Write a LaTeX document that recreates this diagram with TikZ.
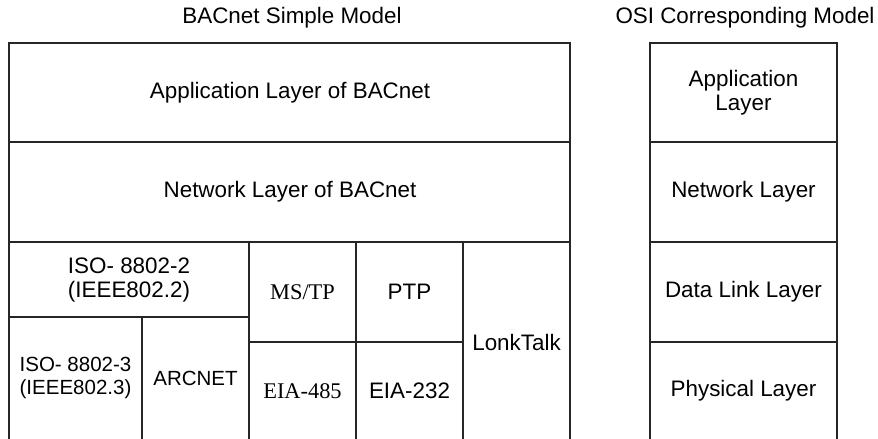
\documentclass[tikz,border=0pt]{standalone}
\usepackage{fontspec}
\setmainfont{Liberation Sans}
\newfontfamily\serifface{Liberation Serif}
\begin{document}
\begin{tikzpicture}[x=1pt,y=-1pt,
  grid/.style={line width=1.3pt,draw=black!85},
  lbl/.style={inner sep=0pt,align=center,font=\fontsize{22.4}{24.5}\selectfont},
  smlbl/.style={inner sep=0pt,align=center,font=\fontsize{20.5}{23}\selectfont},
  slbl/.style={inner sep=0pt,align=center,font=\fontsize{22.4}{24.5}\selectfont\serifface}]
\useasboundingbox (0,0) rectangle (878,439);
% titles
\node[lbl] (t1) at (292,18) {BACnet Simple Model};
\node[lbl] (t2) at (745,18) {OSI Corresponding Model};
% BACnet grid
\draw[grid] (9,439) -- (9,43) -- (570,43) -- (570,439);
\draw[grid] (9,142) -- (570,142);
\draw[grid] (9,242) -- (570,242);
\draw[grid] (9,317) -- (249,317);
\draw[grid] (142,317) -- (142,439);
\draw[grid] (249,242) -- (249,439);
\draw[grid] (249,342) -- (463,342);
\draw[grid] (356,242) -- (356,439);
\draw[grid] (463,242) -- (463,439);
% OSI grid
\draw[grid] (650,439) -- (650,43) -- (837,43) -- (837,439);
\draw[grid] (650,142) -- (837,142);
\draw[grid] (650,242) -- (837,242);
\draw[grid] (650,342) -- (837,342);
% BACnet labels
\node[lbl] (app) at (290,92.5) {Application Layer of BACnet};
\node[lbl] (net) at (290,192) {Network Layer of BACnet};
\node[lbl] (iso2) at (129,280) {ISO- 8802-2\\(IEEE802.2)};
\node[smlbl] (iso3) at (75.5,378) {ISO- 8802-3\\(IEEE802.3)};
\node[smlbl] (arc) at (195.5,378) {ARCNET};
\node[slbl] (mstp) at (302.5,292) {MS/TP};
\node[lbl] (ptp) at (409.5,292) {PTP};
\node[slbl] (eia485) at (302.5,391) {EIA-485};
\node[lbl] (eia232) at (409.5,391) {EIA-232};
\node[lbl] (lonk) at (516.5,342) {LonkTalk};
% OSI labels
\node[lbl] (oapp) at (743.5,92.5) {Application\\Layer};
\node[lbl] (onet) at (743.5,192) {Network Layer};
\node[lbl] (odl) at (743.5,292) {Data Link Layer};
\node[lbl] (ophy) at (743.5,391) {Physical Layer};
\end{tikzpicture}
\end{document}
